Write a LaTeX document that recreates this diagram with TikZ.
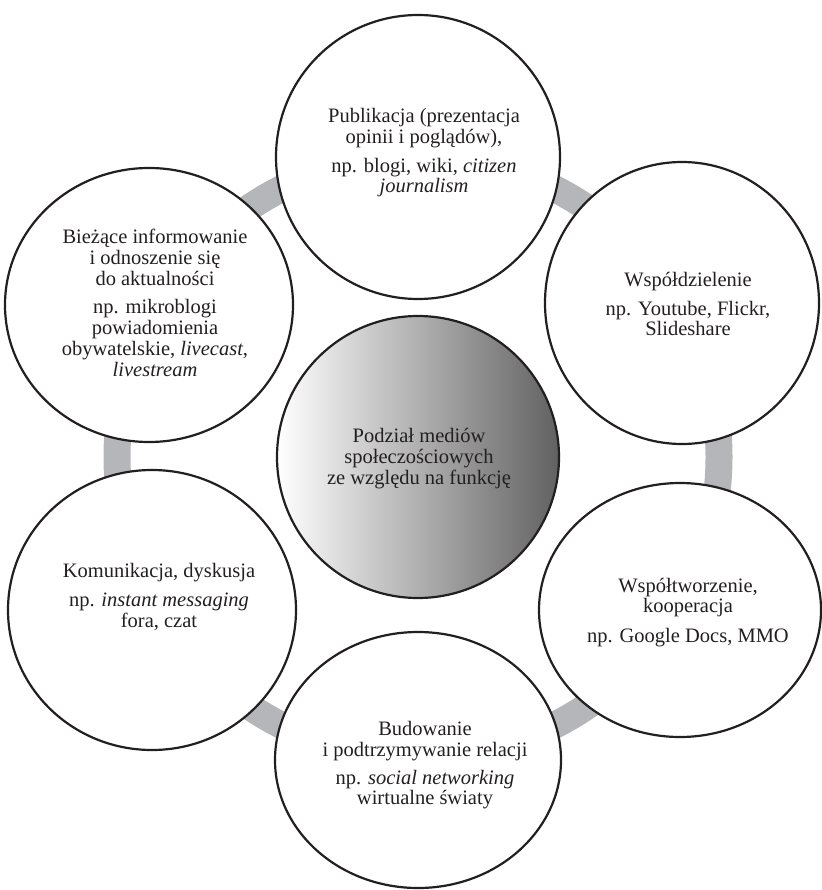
\documentclass[tikz,border=0pt]{standalone}
\usepackage{fontspec}
\setmainfont{Liberation Serif}
\usetikzlibrary{shapes.geometric}
\definecolor{ringgray}{RGB}{181,182,185}
\definecolor{ink}{RGB}{35,31,32}
\tikzset{
  bub/.style={ellipse, draw=ink, line width=2.2pt, fill=white, inner sep=0pt},
  lbl/.style={font=\fontsize{20.5}{21}\selectfont, align=center, inner sep=0pt, anchor=north, text=ink},
  ringline/.style={draw=ringgray, line width=27pt},
}
\begin{document}
\begin{tikzpicture}[x=1pt,y=-1pt]
\useasboundingbox (0,0) rectangle (821,890);
% grey ring behind the circles
\coordinate (mid) at (418,457);
\draw[ringline] (mid) circle[radius=301pt];
% outer circles
\node[bub, minimum width=284pt, minimum height=284pt] (top) at (418,157) {};
\node[bub, minimum width=274pt, minimum height=282pt] (tr) at (682,303) {};
\node[bub, minimum width=288pt, minimum height=274pt] (tl) at (149,305) {};
\node[bub, minimum width=288pt, minimum height=280pt] (bl) at (152,610) {};
\node[bub, minimum width=282pt, minimum height=254pt] (br) at (680,610) {};
\node[bub, minimum width=286pt, minimum height=256pt] (bot) at (418,760) {};
% centre circle
\node[ellipse, draw=ink, line width=2.2pt, inner sep=0pt, minimum width=282pt, minimum height=282pt,
      left color=white, middle color=black!13, right color=black!62] (ctr) at (mid) {};
% texts
\node[lbl] (ttop) at (424,108) {Publikacja (prezentacja\\ opinii i poglądów),\\[8pt] np. blogi, wiki, \textit{citizen}\\[-1pt] \textit{journalism}};
\node[lbl] (ttl) at (155,229) {Bieżące informowanie\\ i odnoszenie się\\ do aktualności\\[7pt] np. mikroblogi\\ powiadomienia\\ obywatelskie, \textit{livecast},\\ \textit{livestream}};
\node[lbl] (ttr) at (688,272) {Współdzielenie\\[8pt] np. Youtube, Flickr,\\[-1pt] Slideshare};
\node[lbl] (tctr) at (419,428) {Podział mediów\\ społeczościowych\\ ze względu na funkcję};
\node[lbl] (tbl) at (159,563) {Komunikacja, dyskusja\\[8pt] np. \textit{instant messaging}\\ fora, czat};
\node[lbl] (tbr) at (688,578) {Współtworzenie,\\[-1pt] kooperacja\\[9pt] np. Google Docs, MMO};
\node[lbl] (tbot) at (425,721) {Budowanie\\ i podtrzymywanie relacji\\[7pt] np. \textit{social networking}\\[-1pt] wirtualne światy};
\end{tikzpicture}
\end{document}
